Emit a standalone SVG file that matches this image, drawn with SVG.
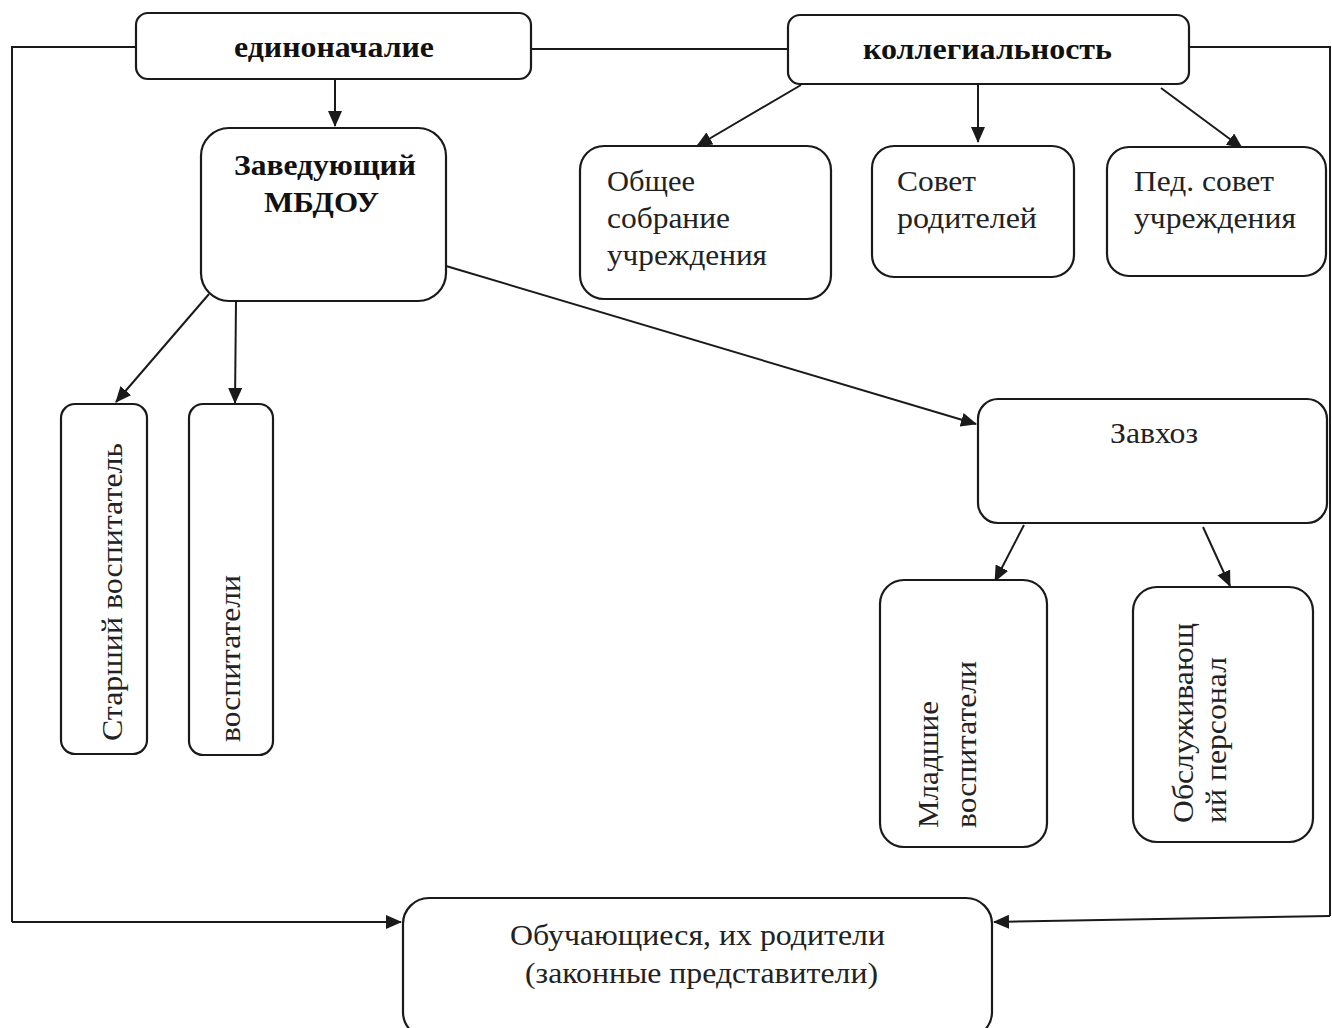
<svg xmlns="http://www.w3.org/2000/svg" width="1332" height="1028" viewBox="0 0 1332 1028">
<defs>
<marker id="ah" markerWidth="16" markerHeight="14" refX="15" refY="7" orient="auto" markerUnits="userSpaceOnUse">
<path d="M0,0 L16,7 L0,14 Z" fill="#1a1a1a"/>
</marker>
<style>
.box{fill:#fff;stroke:#1a1a1a;stroke-width:2.2}
.ln{fill:none;stroke:#1a1a1a;stroke-width:2}
.t{font-family:"Liberation Serif","Times New Roman",serif;font-size:30px;fill:#222}
.b{font-weight:bold;fill:#111}
</style>
</defs>
<rect width="1332" height="1028" fill="#fff"/>
<g id="connectors">
<polyline class="ln" points="136,47 12,47 12,922" />
<line class="ln" x1="12" y1="922" x2="401" y2="922" marker-end="url(#ah)"/>
<line class="ln" x1="531" y1="49" x2="788" y2="49"/>
<polyline class="ln" points="1189,47 1330,47 1330,916"/>
<line class="ln" x1="1330" y1="916" x2="994" y2="922" marker-end="url(#ah)"/>
<line class="ln" x1="335" y1="80" x2="335" y2="126" marker-end="url(#ah)"/>
<line class="ln" x1="801" y1="85" x2="697" y2="146" marker-end="url(#ah)"/>
<line class="ln" x1="978" y1="84" x2="978" y2="142" marker-end="url(#ah)"/>
<line class="ln" x1="1161" y1="88" x2="1242" y2="148" marker-end="url(#ah)"/>
<line class="ln" x1="209" y1="294" x2="116" y2="402" marker-end="url(#ah)"/>
<line class="ln" x1="236" y1="301" x2="235" y2="403" marker-end="url(#ah)"/>
<line class="ln" x1="446" y1="266" x2="976" y2="424" marker-end="url(#ah)"/>
<line class="ln" x1="1024" y1="525" x2="995" y2="581" marker-end="url(#ah)"/>
<line class="ln" x1="1203" y1="527" x2="1230" y2="586" marker-end="url(#ah)"/>
</g>
<g id="n-edinonachalie">
<rect class="box" x="136" y="13" width="395" height="66" rx="12"/>
<text class="t b" x="234" y="57" textLength="200" lengthAdjust="spacingAndGlyphs">единоначалие</text>
</g>
<g id="n-kollegialnost">
<rect class="box" x="788" y="15" width="401" height="69" rx="12"/>
<text class="t b" x="863" y="59" textLength="249" lengthAdjust="spacingAndGlyphs">коллегиальность</text>
</g>
<g id="n-zaveduyushchiy">
<rect class="box" x="201" y="128" width="245" height="173" rx="28"/>
<text class="t b" x="234" y="175" textLength="182" lengthAdjust="spacingAndGlyphs">Заведующий</text>
<text class="t b" x="264" y="212" textLength="115" lengthAdjust="spacingAndGlyphs">МБДОУ</text>
</g>
<g id="n-obshchee">
<rect class="box" x="580" y="146" width="251" height="153" rx="24"/>
<text class="t" x="607" y="191" textLength="88" lengthAdjust="spacingAndGlyphs">Общее</text>
<text class="t" x="607" y="228" textLength="123" lengthAdjust="spacingAndGlyphs">собрание</text>
<text class="t" x="607" y="265" textLength="160" lengthAdjust="spacingAndGlyphs">учреждения</text>
</g>
<g id="n-sovet">
<rect class="box" x="872" y="146" width="202" height="131" rx="22"/>
<text class="t" x="897" y="191" textLength="79" lengthAdjust="spacingAndGlyphs">Совет</text>
<text class="t" x="897" y="228" textLength="140" lengthAdjust="spacingAndGlyphs">родителей</text>
</g>
<g id="n-pedsovet">
<rect class="box" x="1107" y="147" width="219" height="129" rx="22"/>
<text class="t" x="1134" y="191" textLength="140" lengthAdjust="spacingAndGlyphs">Пед. совет</text>
<text class="t" x="1134" y="228" textLength="162" lengthAdjust="spacingAndGlyphs">учреждения</text>
</g>
<g id="n-starshiy">
<rect class="box" x="61" y="404" width="86" height="350" rx="14"/>
<text class="t" transform="translate(122,741) rotate(-90)" textLength="298" lengthAdjust="spacingAndGlyphs">Старший воспитатель</text>
</g>
<g id="n-vospitateli">
<rect class="box" x="189" y="404" width="84" height="351" rx="14"/>
<text class="t" transform="translate(240,742) rotate(-90)" textLength="167" lengthAdjust="spacingAndGlyphs">воспитатели</text>
</g>
<g id="n-zavhoz">
<rect class="box" x="978" y="399" width="349" height="124" rx="20"/>
<text class="t" x="1110" y="443" textLength="88" lengthAdjust="spacingAndGlyphs">Завхоз</text>
</g>
<g id="n-mladshie">
<rect class="box" x="880" y="580" width="167" height="267" rx="24"/>
<text class="t" transform="translate(938,828) rotate(-90)" textLength="127" lengthAdjust="spacingAndGlyphs">Младшие</text>
<text class="t" transform="translate(976,828) rotate(-90)" textLength="167" lengthAdjust="spacingAndGlyphs">воспитатели</text>
</g>
<g id="n-obsluzh">
<rect class="box" x="1133" y="587" width="180" height="255" rx="24"/>
<text class="t" transform="translate(1193,823) rotate(-90)" textLength="200" lengthAdjust="spacingAndGlyphs">Обслуживающ</text>
<text class="t" transform="translate(1226,823) rotate(-90)" textLength="166" lengthAdjust="spacingAndGlyphs">ий персонал</text>
</g>
<g id="n-obuchayushchiesya">
<rect class="box" x="403" y="898" width="589" height="140" rx="26"/>
<text class="t" x="510" y="945" textLength="375" lengthAdjust="spacingAndGlyphs">Обучающиеся, их родители</text>
<text class="t" x="525" y="983" textLength="353" lengthAdjust="spacingAndGlyphs">(законные представители)</text>
</g>
</svg>
